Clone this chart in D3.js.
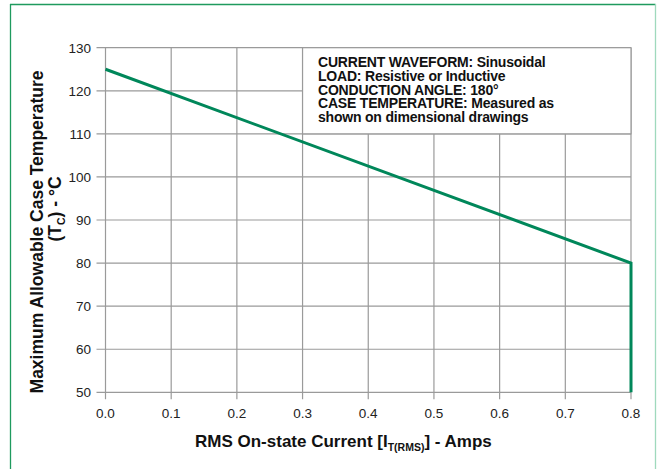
<!DOCTYPE html>
<html>
<head>
<meta charset="utf-8">
<script src="https://cdn.jsdelivr.net/npm/d3@7"></script>
<style>
  body { margin: 0; background: #fff; }
  svg { display: block; font-family: "Liberation Sans", Arial, sans-serif; }
</style>
</head>
<body>
<svg id="chart" width="657" height="469"></svg>
<script>
// ---- data ----
const currentAmps = [0.0, 0.8, 0.8];
const caseTempC = [125, 80, 50];
const xTicks = [0.0, 0.1, 0.2, 0.3, 0.4, 0.5, 0.6, 0.7, 0.8];
const yTicks = [50, 60, 70, 80, 90, 100, 110, 120, 130];
const noteLines = [
  "CURRENT WAVEFORM: Sinusoidal",
  "LOAD: Resistive or Inductive",
  "CONDUCTION ANGLE: 180\u00B0",
  "CASE TEMPERATURE: Measured as",
  "shown on dimensional drawings"
];
const noteBox = { x0: 0.3, x1: 0.8, y0: 110, y1: 130 };

// ---- layout ----
const svg = d3.select("#chart");
const W = 657, H = 469;
const m = { left: 105.5, right: W - 631, top: 47.7, bottom: H - 392.3 };
const x = d3.scaleLinear().domain([0, 0.8]).range([m.left, W - m.right]);
const y = d3.scaleLinear().domain([50, 130]).range([H - m.bottom, m.top]);

// frame border
svg.append("line").attr("x1", 10.5).attr("x2", 10.5).attr("y1", 4).attr("y2", H)
  .attr("stroke", "#1f9a5e").attr("stroke-width", 1.3);
svg.append("line").attr("x1", 10).attr("x2", 655.5).attr("y1", 4.5).attr("y2", 4.5)
  .attr("stroke", "#1f9a5e").attr("stroke-width", 1.3);
svg.append("line").attr("x1", 655.5).attr("x2", 655.5).attr("y1", 4).attr("y2", H)
  .attr("stroke", "#9fd9bd").attr("stroke-width", 1.3);

const gridColor = "#9a9a9a";
// horizontal grid + left ticks
svg.append("g").selectAll("line").data(yTicks).join("line")
  .attr("x1", x(0) - 9).attr("x2", x(0.8))
  .attr("y1", d => y(d)).attr("y2", d => y(d))
  .attr("stroke", gridColor).attr("stroke-width", 1.2);
// vertical grid + bottom ticks
svg.append("g").selectAll("line").data(xTicks).join("line")
  .attr("x1", d => x(d)).attr("x2", d => x(d))
  .attr("y1", y(130)).attr("y2", y(50) + 7)
  .attr("stroke", gridColor).attr("stroke-width", 1.2);

// note box
svg.append("rect")
  .attr("x", x(noteBox.x0)).attr("y", y(noteBox.y1))
  .attr("width", x(noteBox.x1) - x(noteBox.x0))
  .attr("height", y(noteBox.y0) - y(noteBox.y1))
  .attr("fill", "#fff").attr("stroke", gridColor).attr("stroke-width", 1.2);
svg.append("g").selectAll("text").data(noteLines).join("text")
  .attr("x", 318).attr("y", (d, i) => 67.3 + i * 13.6)
  .attr("font-size", 14).attr("font-weight", "bold").attr("fill", "#111")
  .attr("letter-spacing", "-0.2px")
  .text(d => d);

// axis tick labels
svg.append("g").selectAll("text").data(yTicks).join("text")
  .attr("x", 91).attr("y", d => y(d) + 5)
  .attr("text-anchor", "end").attr("font-size", 13.5).attr("fill", "#222")
  .text(d => d);
svg.append("g").selectAll("text").data(xTicks).join("text")
  .attr("x", d => x(d)).attr("y", y(50) + 26)
  .attr("text-anchor", "middle").attr("font-size", 13.5).attr("fill", "#222")
  .text(d => d3.format(".1f")(d));

// data line
svg.append("path")
  .datum(currentAmps.map((c, i) => [c, caseTempC[i]]))
  .attr("fill", "none").attr("stroke", "#00875a").attr("stroke-width", 3)
  .attr("stroke-linejoin", "miter")
  .attr("d", d3.line().x(d => x(d[0])).y(d => y(d[1])));

// x axis title
const xt = svg.append("text").attr("x", 195).attr("y", 447)
  .attr("font-size", 17).attr("font-weight", "bold").attr("fill", "#111");
xt.append("tspan").text("RMS On-state Current [I");
xt.append("tspan").attr("font-size", 10.5).attr("dy", 4).text("T(RMS)");
xt.append("tspan").attr("dy", -4).text("] - Amps");

// y axis title
const yt = svg.append("text").attr("transform", "translate(43,232) rotate(-90)")
  .attr("text-anchor", "middle").attr("font-size", 17.5).attr("font-weight", "bold").attr("fill", "#111");
yt.text("Maximum Allowable Case Temperature");
const yt2 = svg.append("text").attr("transform", "translate(61,209) rotate(-90)")
  .attr("text-anchor", "middle").attr("font-size", 17.5).attr("font-weight", "bold").attr("fill", "#111");
yt2.append("tspan").text("(T");
yt2.append("tspan").attr("font-size", 10.5).attr("dy", 4).text("C");
yt2.append("tspan").attr("dy", -4).text(") - \u00B0C");
</script>
</body>
</html>
